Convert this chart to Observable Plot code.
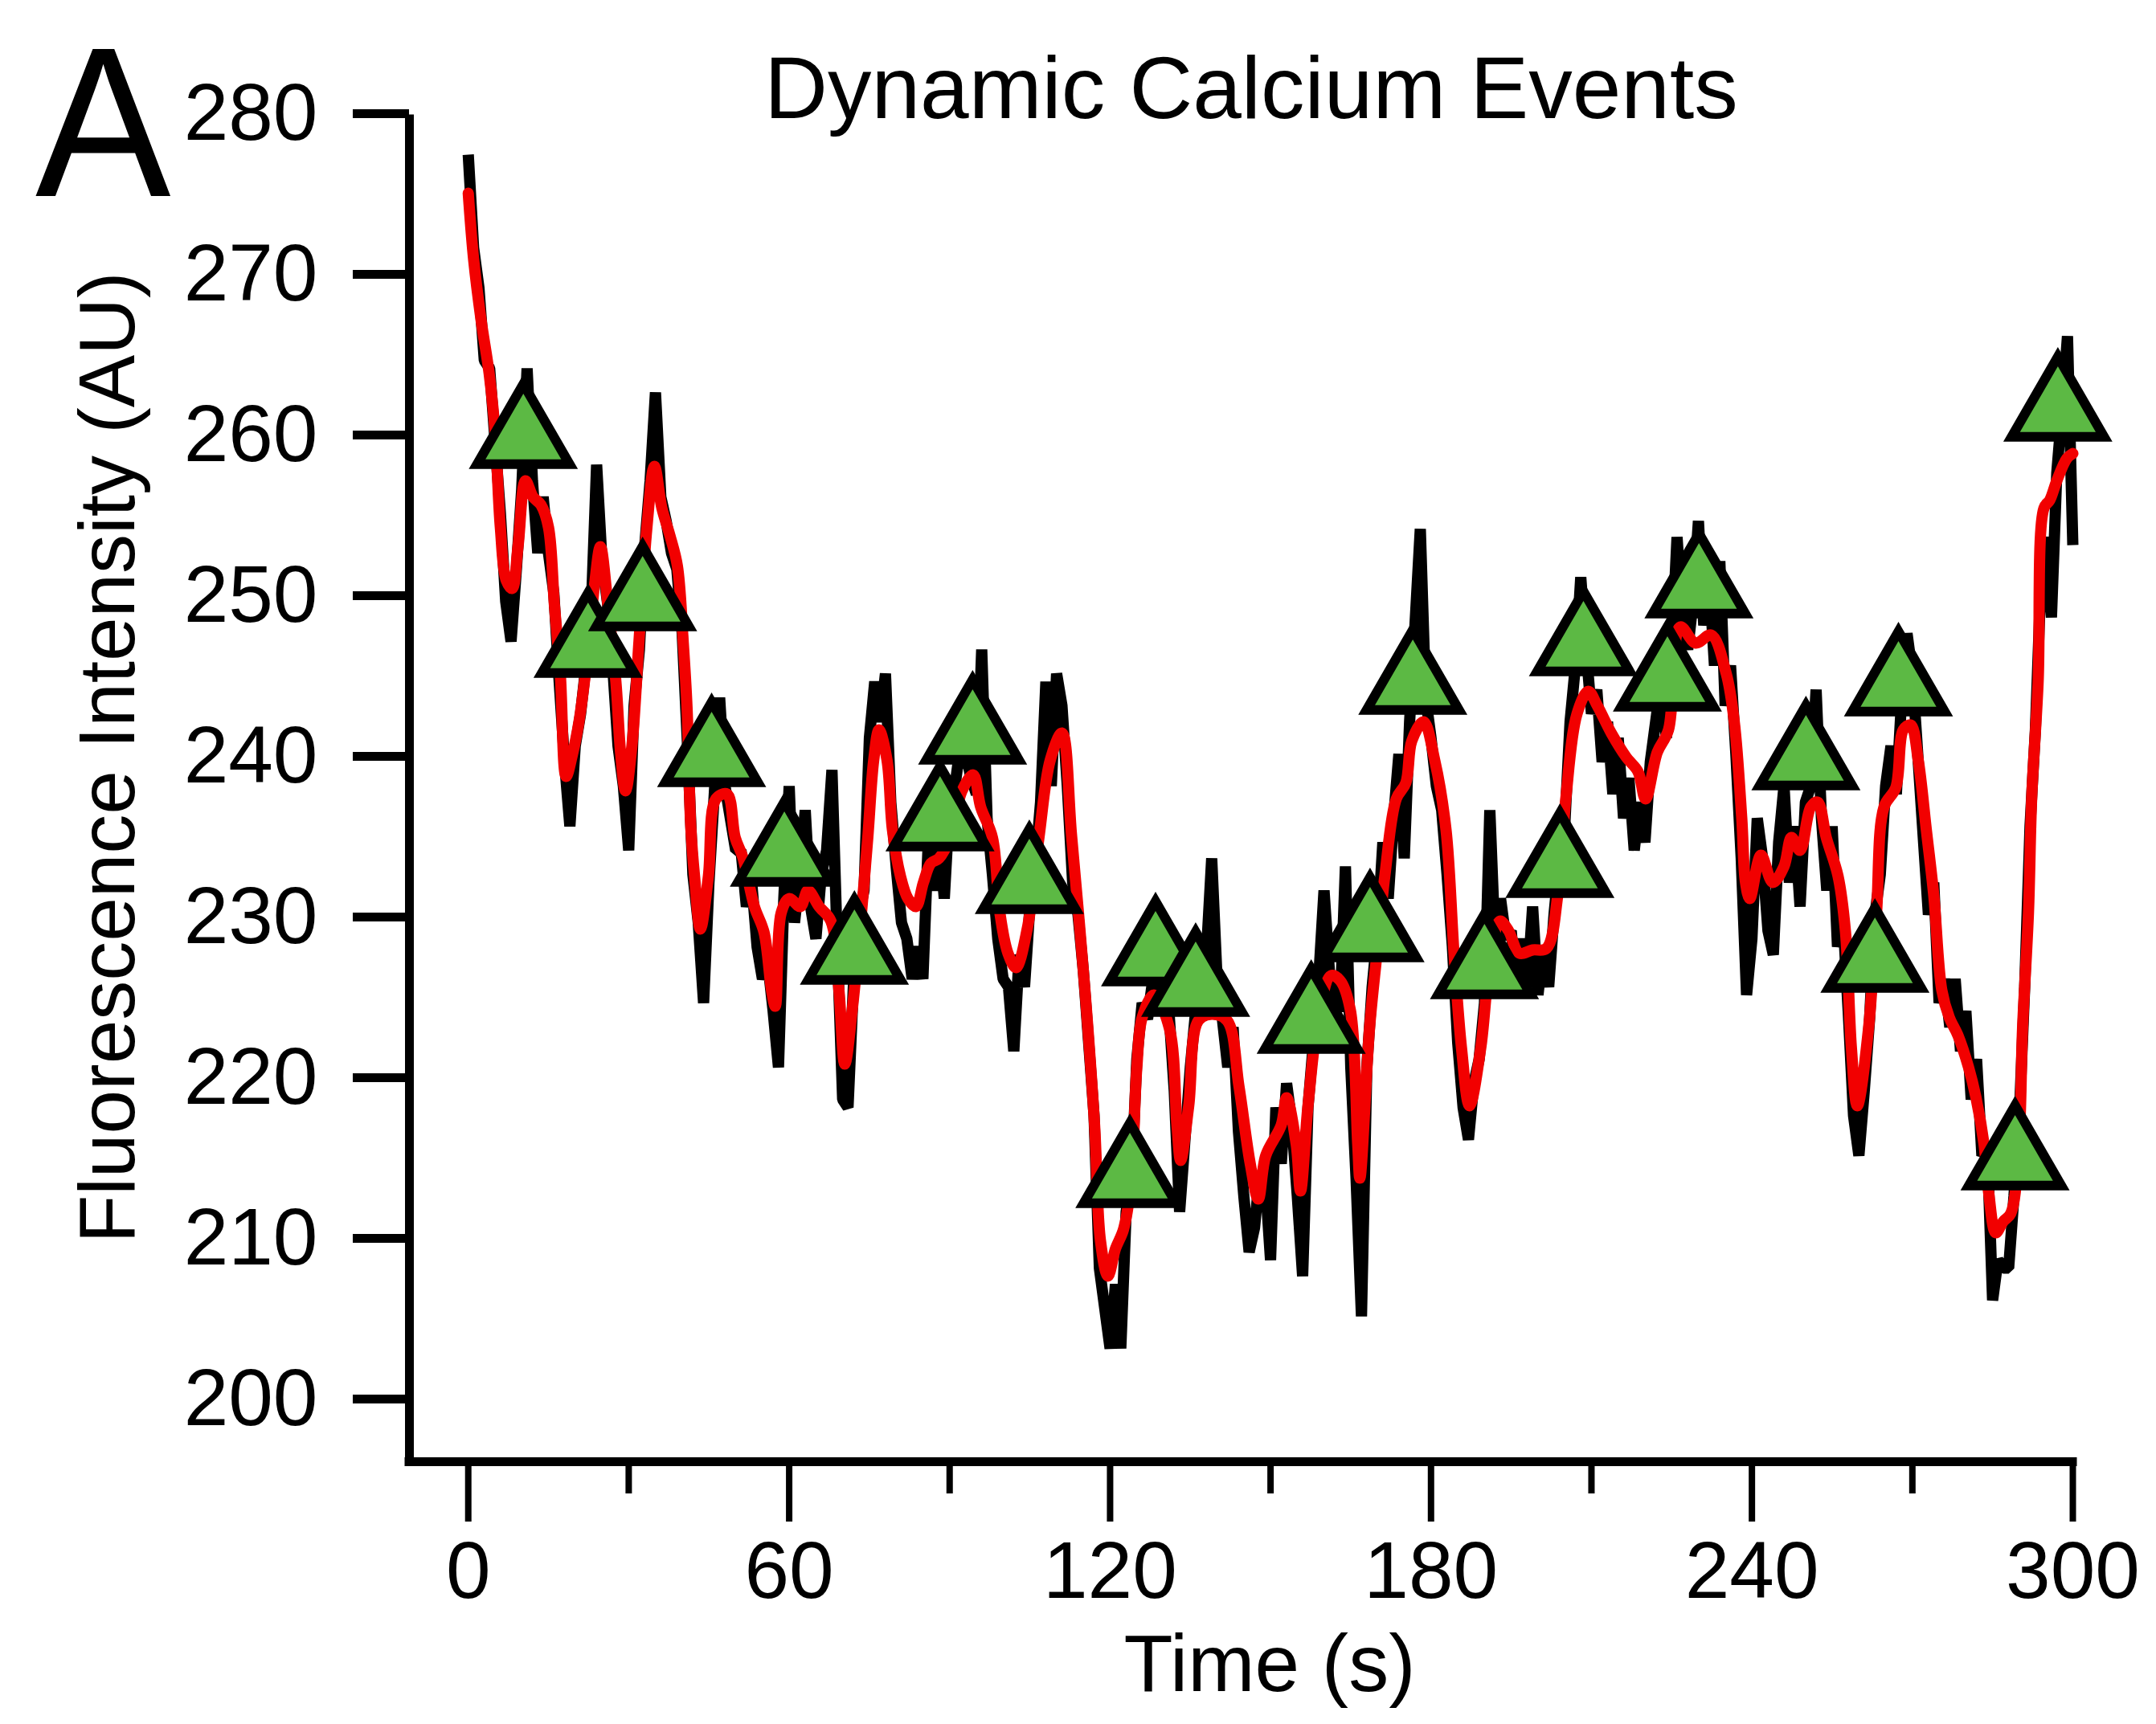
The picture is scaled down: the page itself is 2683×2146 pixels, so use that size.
<!DOCTYPE html>
<html>
<head>
<meta charset="utf-8">
<script src="https://cdn.jsdelivr.net/npm/d3@7"></script>
<script src="https://cdn.jsdelivr.net/npm/@observablehq/plot@0.6"></script>
<style>
  body { margin: 0; background: #fff; }
  svg { display: block; }
</style>
</head>
<body>
<div id="chart"></div>
<script>
// Raw fluorescence trace, one sample per second (t = 0 … 300 s)
const sampleInterval = 1;
const rawValue = [
  277.8, 272.0, 269.5, 265.0, 264.5, 260.0, 255.5, 250.0, 247.5, 252.0,
  257.0, 264.5, 257.5, 253.0, 256.5, 253.0, 250.5, 245.0, 240.0, 236.0,
  241.0, 243.0, 246.0, 249.5, 258.5, 252.5, 250.0, 246.0, 241.0, 238.5,
  234.5, 243.5, 247.0, 253.5, 257.5, 263.0, 256.5, 255.0, 253.0, 252.0,
  248.0, 241.0, 233.0, 230.0, 225.0, 232.5, 238.0, 244.0, 238.5, 236.5,
  234.5, 234.5, 231.0, 232.5, 228.5, 226.5, 227.5, 224.5, 221.0, 231.5,
  238.5, 230.0, 233.0, 237.0, 231.0, 229.0, 233.0, 234.5, 239.5, 228.5,
  219.0, 218.5, 226.0, 230.5, 232.0, 241.5, 245.0, 242.5, 245.5, 237.5,
  233.5, 230.0, 229.0, 226.5, 228.5, 226.5, 235.0, 232.0, 235.5, 231.5,
  237.5, 238.5, 241.0, 240.5, 239.0, 238.0, 247.0, 236.5, 233.0, 229.0,
  226.5, 226.0, 222.0, 228.0, 226.0, 231.0, 233.5, 237.5, 245.0, 238.5,
  245.5, 243.5, 238.5, 232.5, 230.5, 227.0, 222.5, 218.0, 208.5, 206.0,
  203.5, 207.5, 203.5, 212.0, 214.0, 221.5, 225.0, 224.0, 226.5, 225.0,
  228.5, 224.5, 219.5, 212.0, 216.5, 221.0, 224.5, 226.5, 228.0, 234.0,
  226.5, 224.0, 221.0, 223.5, 217.0, 213.0, 209.5, 211.0, 214.5, 214.0,
  209.0, 218.5, 215.0, 220.0, 217.5, 213.0, 208.0, 218.5, 222.5, 226.5,
  232.0, 227.0, 225.5, 224.5, 233.5, 221.0, 214.0, 205.5, 221.0, 226.0,
  229.5, 235.0, 231.5, 236.5, 240.5, 234.0, 242.5, 248.5, 254.5, 244.0,
  241.5, 238.5, 237.0, 233.0, 228.5, 222.5, 218.5, 216.5, 220.0, 221.5,
  225.0, 237.0, 228.5, 231.5, 229.0, 229.5, 225.5, 229.0, 226.0, 231.0,
  225.5, 228.5, 226.0, 230.5, 234.0, 236.0, 242.5, 246.0, 251.5, 247.0,
  243.0, 244.5, 240.0, 242.5, 238.0, 241.5, 236.5, 239.0, 234.5, 237.5,
  235.0, 240.0, 242.5, 245.0, 241.5, 247.0, 254.0, 249.0, 247.0, 250.0,
  255.0, 248.5, 251.5, 246.0, 252.5, 243.5, 246.0, 240.5, 234.0, 225.5,
  229.0, 236.5, 234.0, 229.5, 228.0, 235.0, 238.5, 232.5, 236.0, 231.0,
  237.5, 238.5, 244.5, 236.5, 232.0, 236.0, 228.5, 230.5, 224.5, 218.0,
  215.5, 219.5, 224.0, 230.5, 233.0, 238.5, 241.0, 238.0, 244.0, 248.0,
  245.5, 240.5, 235.5, 230.5, 232.5, 225.0, 226.5, 223.5, 226.5, 222.0,
  224.5, 219.0, 221.5, 215.5, 216.0, 206.5, 209.0, 208.5, 208.5, 213.0,
  218.0, 226.0, 236.0, 242.0, 251.0, 254.0, 249.0, 258.0, 262.0, 266.5,
  253.5
];

// Smoothed trace (time in s, intensity in AU)
const smoothTime = [
  0, 1, 2.4, 3.9, 5, 6, 7.1, 8.2, 9.3, 10.7, 12.1, 13.6, 15, 16.1, 17.2, 18.3, 19.5, 20.7, 21.9, 23.6,
  24.7, 26.1, 27.6, 28.5, 29.4, 30.6, 31.9, 33.4, 34.8, 36.2, 37.7, 39.1, 40.2, 40.9, 41.6, 42.3, 43.4, 44.9, 46.3, 48.4,
  49.9, 51.3, 53.5, 55.3, 56.7, 57.4, 58.5, 60, 62.1, 63.5, 65.6, 67.8, 69.3, 70.4, 71.8, 73.2, 74.7, 75.8, 76.8, 78.3,
  79.3, 80.8, 82.2, 83.7, 85.1, 86.5, 88, 90.1, 92.3, 94.4, 95.8, 98, 99.4, 100.9, 102.4, 104.5, 106.7, 108.8, 111, 112.8,
  115.3, 117.1, 118.2, 119.6, 121, 122.5, 123.9, 125, 126, 128.2, 131.1, 132.5, 133.2, 134.7, 136.5, 139, 141.9, 144.1, 146.2, 147.7,
  149.1, 152, 153, 154.8, 155.6, 157, 159.2, 161.3, 163, 164.9, 166.3, 166.7, 168.5, 169.9, 171.4, 173.5, 175.3, 176.4, 178.6, 180.7,
  182.8, 184.3, 185.7, 187.2, 189.3, 191, 192.9, 194.5, 196.5, 199, 201.6, 203.7, 205.2, 207.3, 209.4, 211.1, 213.7, 216.5, 218.7, 220.1,
  222.3, 224.4, 226.6, 229.5, 232.4, 235.2, 236.7, 238.1, 238.8, 239.6, 241.7, 243.9, 246, 247.4, 249, 251, 252.3, 253.9, 256.1, 257.5,
  258.6, 259.7, 261.8, 263.3, 264.7, 266.9, 268.3, 269.7, 271.1, 272.6, 274, 275.5, 276.9, 278.5, 280.5, 281.9, 283.4, 284.3, 285.6, 287,
  288.4, 289.9, 290.6, 291.7, 292.3, 293.5, 294.6, 295.7, 297, 298.9, 300
];
const smoothValue = [
  275.4, 271.3, 267.5, 264.2, 260.6, 254.6, 251.3, 250.8, 253.4, 257.5, 256.5, 256.0, 254.6, 249.8, 245.5, 239.1, 240.5, 242.5, 245.5, 251.0,
  253.4, 249.8, 245.0, 240.5, 238.2, 241.0, 247.4, 254.6, 258.4, 255.8, 254.1, 252.2, 247.4, 243.4, 236.0, 232.9, 229.6, 232.9, 237.7, 238.0,
  235.3, 234.1, 231.0, 229.4, 225.8, 224.8, 230.6, 231.5, 231.0, 232.0, 231.0, 230.1, 225.8, 221.2, 224.6, 229.4, 235.3, 240.1, 242.0, 240.1,
  235.8, 232.9, 231.5, 231.0, 232.5, 233.7, 234.0, 235.3, 238.2, 239.2, 237.2, 235.3, 230.6, 228.1, 227.2, 229.6, 235.3, 240.1, 241.8, 235.4,
  225.8, 217.4, 210.2, 208.0, 209.7, 210.9, 213.8, 221.0, 224.1, 225.5, 223.4, 217.4, 215.2, 218.6, 223.9, 224.3, 223.9, 219.8, 215.0, 212.8,
  215.5, 217.4, 219.1, 216.2, 213.3, 218.6, 224.6, 226.7, 226.4, 224.6, 216.2, 214.1, 223.4, 228.1, 233.0, 237.7, 238.7, 241.3, 242.5, 240.1,
  235.8, 228.1, 222.2, 218.6, 222.2, 227.5, 230.1, 229.5, 228.1, 228.3, 228.4, 231.7, 237.7, 243.0, 244.4, 243.5, 241.8, 240.3, 239.4, 237.7,
  240.6, 242.0, 248.4, 247.4, 247.9, 245.5, 242.5, 236.5, 232.5, 231.5, 234.2, 232.5, 233.5, 235.3, 234.5, 237.2, 237.5, 235.3, 232.9, 229.4,
  222.2, 218.6, 223.4, 230.6, 237.2, 238.4, 242.0, 242.3, 240.1, 235.8, 231.7, 225.8, 224.1, 223.0, 221.0, 219.1, 216.2, 213.1, 210.7, 211.4,
  211.9, 216.2, 223.4, 230.6, 237.7, 244.9, 255.8, 256.3, 257.5, 258.9, 259.2
];

// Detected calcium events
const eventTime = [10.3, 22.4, 32.6, 45.5, 59.1, 72.2, 88.2, 94.3, 104.9, 123.7, 128.5, 136.0, 157.6,
                   168.6, 176.6, 190.0, 204.1, 208.5, 224.2, 230.1, 250.1, 263.0, 267.4, 289.2, 297.2];
const eventValue = [260.2, 247.2, 250.1, 240.4, 234.2, 228.1, 236.4, 241.8, 232.5, 214.2, 228.0, 226.1, 223.8,
                    229.5, 244.9, 227.2, 233.5, 247.3, 245.1, 250.9, 240.2, 227.6, 244.8, 215.3, 261.9];

// Axis ticks
const xTicks = [0, 60, 120, 180, 240, 300];
const xMinorTicks = [30, 90, 150, 210, 270];
const yTicks = [200, 210, 220, 230, 240, 250, 260, 270, 280];

const xDomain = [-11, 300];
const yDomain = [196.45, 280];

const raw = rawValue.map((v, i) => ({t: i * sampleInterval, v}));
const smooth = smoothTime.map((t, i) => ({t, v: smoothValue[i]}));
const events = eventTime.map((t, i) => ({t, v: eventValue[i]}));

const font = "'Liberation Sans', Arial, Helvetica, sans-serif";

const chart = Plot.plot({
  width: 2683,
  height: 2146,
  marginLeft: 509,
  marginRight: 104,
  marginTop: 148,
  marginBottom: 327,
  x: {domain: xDomain},
  y: {domain: yDomain},
  style: {fontFamily: font, background: "#fff", color: "#000"},
  marks: [
    Plot.axisY({ticks: yTicks, tickSize: 70, tickPadding: 44, fontSize: 100, strokeWidth: 11,
                dy: -7, label: null, tickFormat: d => String(d)}),
    Plot.axisX({ticks: xMinorTicks, tickSize: 40, strokeWidth: 8, label: null, tickFormat: () => ""}),
    Plot.axisX({ticks: xTicks, tickSize: 75, tickPadding: 23, fontSize: 100, strokeWidth: 8,
                label: null, tickFormat: d => String(d)}),
    Plot.ruleX([xDomain[0]], {stroke: "#000", strokeWidth: 11, strokeLinecap: "square"}),
    Plot.ruleY([yDomain[0]], {stroke: "#000", strokeWidth: 11, strokeLinecap: "square"}),
    Plot.line(raw, {x: "t", y: "v", stroke: "#000", strokeWidth: 14,
                    strokeLinejoin: "bevel", strokeLinecap: "butt"}),
    Plot.line(smooth, {x: "t", y: "v", stroke: "#f20000", strokeWidth: 14, curve: "catmull-rom"}),
    Plot.dot(events, {x: "t", y: "v", symbol: "triangle", r: 42.7, fill: "#5cb944",
                      stroke: "#000", strokeWidth: 12, strokeLinejoin: "miter"})
  ]
});

const svg = d3.select(chart);
svg.append("text")
  .attr("transform", "translate(44,244) scale(0.95,1)").attr("text-anchor", "start")
  .attr("font-family", font).attr("font-size", 266).attr("fill", "#000")
  .text("A");
svg.append("text")
  .attr("x", 1557).attr("y", 147).attr("text-anchor", "middle")
  .attr("font-family", font).attr("font-size", 109).attr("fill", "#000")
  .text("Dynamic Calcium Events");
svg.append("text")
  .attr("transform", "translate(167,943) rotate(-90)").attr("text-anchor", "middle")
  .attr("font-family", font).attr("font-size", 98).attr("fill", "#000")
  .text("Fluorescence Intensity (AU)");
svg.append("text")
  .attr("x", 1580).attr("y", 2105).attr("text-anchor", "middle")
  .attr("font-family", font).attr("font-size", 100).attr("fill", "#000")
  .text("Time (s)");

document.getElementById("chart").append(chart);
</script>
</body>
</html>
